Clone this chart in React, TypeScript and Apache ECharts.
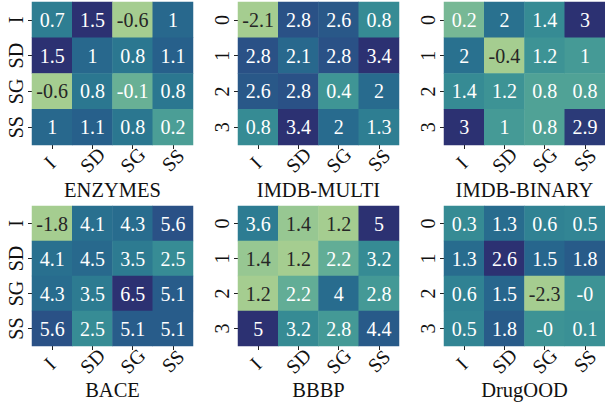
import React, { useEffect, useRef } from "react";
import * as echarts from "echarts";

const colLabels = ["I", "SD", "SG", "SS"];
const rowLabelsA = ["I", "SD", "SG", "SS"];
const rowLabelsB = ["0", "1", "2", "3"];

const titles = ["ENZYMES", "IMDB-MULTI", "IMDB-BINARY", "BACE", "BBBP", "DrugOOD"];

const enzymes = [
  [0.7, 1.5, -0.6, 1],
  [1.5, 1, 0.8, 1.1],
  [-0.6, 0.8, -0.1, 0.8],
  [1, 1.1, 0.8, 0.2],
];
const imdbMulti = [
  [-2.1, 2.8, 2.6, 0.8],
  [2.8, 2.1, 2.8, 3.4],
  [2.6, 2.8, 0.4, 2],
  [0.8, 3.4, 2, 1.3],
];
const imdbBinary = [
  [0.2, 2, 1.4, 3],
  [2, -0.4, 1.2, 1],
  [1.4, 1.2, 0.8, 0.8],
  [3, 1, 0.8, 2.9],
];
const bace = [
  [-1.8, 4.1, 4.3, 5.6],
  [4.1, 4.5, 3.5, 2.5],
  [4.3, 3.5, 6.5, 5.1],
  [5.6, 2.5, 5.1, 5.1],
];
const bbbp = [
  [3.6, 1.4, 1.2, 5],
  [1.4, 1.2, 2.2, 3.2],
  [1.2, 2.2, 4, 2.8],
  [5, 3.2, 2.8, 4.4],
];
const drugood = [
  [0.3, 1.3, 0.6, 0.5],
  [1.3, 2.6, 1.5, 1.8],
  [0.6, 1.5, -2.3, -0],
  [0.5, 1.8, -0, 0.1],
];

const matrices = [enzymes, imdbMulti, imdbBinary, bace, bbbp, drugood];
const rowLabelSets = [rowLabelsA, rowLabelsB, rowLabelsB, rowLabelsA, rowLabelsB, rowLabelsB];

const crest = [
  "#a5cd90",
  "#8ac193",
  "#71b595",
  "#5aa996",
  "#479c96",
  "#398f95",
  "#2f8193",
  "#29728f",
  "#27628c",
  "#2a4f85",
  "#2c3172",
];

const FONT = "'Liberation Serif', 'Times New Roman', serif";

function fmt(v: number): string {
  if (Object.is(v, -0)) return "-0";
  return String(v);
}

function textColorFor(norm: number): string {
  const c = echarts.color.lerp(Math.max(0, Math.min(1, norm)), crest) as string;
  const p = echarts.color.parse(c) as number[];
  const lin = (x: number) => {
    const s = x / 255;
    return s <= 0.03928 ? s / 12.92 : Math.pow((s + 0.055) / 1.055, 2.4);
  };
  const L = 0.2126 * lin(p[0]) + 0.7152 * lin(p[1]) + 0.0722 * lin(p[2]);
  return L > 0.408 ? "#262626" : "#ffffff";
}

export default function App() {
  const ref = useRef<HTMLDivElement>(null);
  useEffect(() => {
    document.body.style.margin = "0";
    if (!ref.current) return;
    const chart = echarts.init(ref.current, null, { renderer: "svg" });

    const lefts = [32, 238, 444];
    const tops = [2, 206];
    const heights = [143, 140];
    const width = 161;
    const titleTops = [179, 379];

    const grids: any[] = [];
    const xAxes: any[] = [];
    const yAxes: any[] = [];
    const series: any[] = [];
    const visualMaps: any[] = [];
    const titleArr: any[] = [];

    const xCats = colLabels.map((l) =>
      l.length === 1 ? { value: l, textStyle: { padding: [0, 0, 8, 8] } } : { value: l }
    );

    matrices.forEach((m, i) => {
      const r = Math.floor(i / 3);
      const c = i % 3;
      grids.push({ left: lefts[c], top: tops[r], width, height: heights[r] });
      xAxes.push({
        type: "category",
        gridIndex: i,
        data: xCats,
        position: "bottom",
        axisLine: { show: false },
        axisTick: { show: true, length: 4, alignWithLabel: true, lineStyle: { color: "#222", width: 1 } },
        axisLabel: {
          rotate: 45,
          interval: 0,
          fontSize: 20,
          fontFamily: FONT,
          color: "#111",
          margin: 15,
          align: "center",
          verticalAlign: "middle",
        },
        splitLine: { show: false },
        splitArea: { show: false },
      });
      yAxes.push({
        type: "category",
        gridIndex: i,
        data: rowLabelSets[i],
        inverse: true,
        axisLine: { show: false },
        axisTick: { show: true, length: 4, alignWithLabel: true, lineStyle: { color: "#222", width: 1 } },
        axisLabel: { rotate: 90, interval: 0, fontSize: 20, fontFamily: FONT, color: "#111", margin: 6 },
        splitLine: { show: false },
        splitArea: { show: false },
      });
      const flat = m.flat();
      const mn = Math.min(...flat);
      const mx = Math.max(...flat);
      const data: any[] = [];
      m.forEach((row, yi) => {
        row.forEach((v, xi) => {
          data.push({
            value: [xi, yi, v],
            label: { color: textColorFor((v - mn) / (mx - mn)) },
          });
        });
      });
      visualMaps.push({
        type: "continuous",
        show: false,
        seriesIndex: i,
        dimension: 2,
        min: mn,
        max: mx,
        inRange: { color: crest },
      });
      series.push({
        type: "heatmap",
        xAxisIndex: i,
        yAxisIndex: i,
        data,
        itemStyle: { borderWidth: 0 },
        emphasis: { disabled: true },
        label: {
          show: true,
          fontSize: 20,
          fontFamily: FONT,
          formatter: (p: any) => fmt(m[p.value[1]][p.value[0]]),
        },
      });
      titleArr.push({
        text: titles[i],
        left: lefts[c] + width / 2,
        top: titleTops[r],
        textAlign: "center",
        padding: 0,
        textStyle: { fontSize: 20.5, fontFamily: FONT, fontWeight: "normal", color: "#111" },
      });
    });

    chart.setOption({
      animation: false,
      backgroundColor: "#ffffff",
      title: titleArr,
      grid: grids,
      xAxis: xAxes,
      yAxis: yAxes,
      visualMap: visualMaps,
      series,
    });
    return () => chart.dispose();
  }, []);
  return <div ref={ref} style={{ width: 605, height: 404 }} />;
}
